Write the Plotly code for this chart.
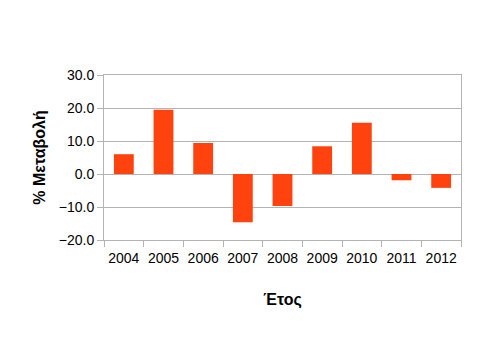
import plotly.graph_objects as go

years = ["2004", "2005", "2006", "2007", "2008", "2009", "2010", "2011", "2012"]
change = [6.0, 19.5, 9.4, -14.6, -9.7, 8.4, 15.5, -1.9, -4.2]
y_ticks = [-20, -10, 0, 10, 20, 30]

fig = go.Figure(go.Bar(x=years, y=change, marker=dict(color="#FF420E", line=dict(width=0)), width=0.5))

grid = "#b3b3b3"
fig.update_layout(
    width=480, height=360,
    margin=dict(l=96, r=27, t=67, b=128),
    paper_bgcolor="white", plot_bgcolor="white",
    font=dict(family="Liberation Sans, Arial, sans-serif", size=14, color="black"),
    showlegend=False,
    bargap=0.5,
)
fig.update_xaxes(
    type="category", showgrid=False, showline=True, linecolor=grid, linewidth=1, mirror=True,
    ticks="outside", tickson="boundaries", ticklen=6, tickcolor=grid, tickangle=0, automargin=False,
    ticklabelstandoff=5,
    title=dict(text="<b>Έτος</b>", font=dict(size=16), standoff=29),
)
fig.update_yaxes(
    range=[-20, 30], tickvals=y_ticks, tickformat=".1f", automargin=False,
    showgrid=True, gridcolor=grid, zeroline=True, zerolinecolor=grid, zerolinewidth=1,
    showline=True, linecolor=grid, linewidth=1, mirror=True,
    ticks="outside", ticklen=6, tickcolor=grid,
    title=dict(text="<b>% Μεταβολή</b>", font=dict(size=16), standoff=9),
)
fig.write_html("out.html")
